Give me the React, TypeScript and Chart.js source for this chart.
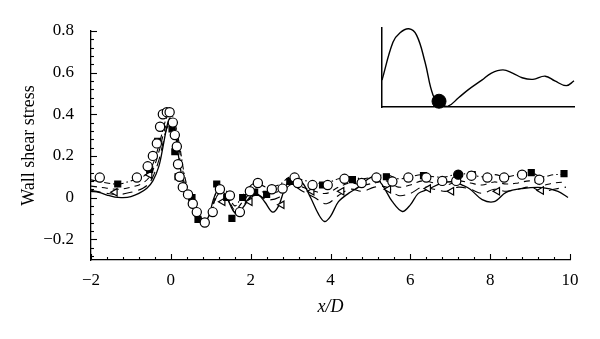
import { useEffect, useRef } from 'react';
import { Chart, registerables } from 'chart.js';
Chart.register(...registerables);

const FONT = "'Liberation Serif', 'DejaVu Serif', serif";

// Solid curve
const solidX = [-2, -1.8, -1.6, -1.4, -1.2, -1.0, -0.8, -0.6, -0.45, -0.3, -0.2, -0.1, -0.03, 0.05, 0.12, 0.2, 0.3, 0.45, 0.6, 0.72, 0.82, 0.95, 1.05, 1.15, 1.25, 1.4, 1.55, 1.65, 1.8, 2.0, 2.2, 2.35, 2.55, 2.7, 2.85, 3.05, 3.3, 3.5, 3.7, 3.85, 4.0, 4.2, 4.45, 4.7, 4.95, 5.1, 5.3, 5.55, 5.8, 6.0, 6.2, 6.45, 6.8, 7.1, 7.3, 7.5, 7.8, 8.1, 8.4, 8.8, 9.3, 9.7, 9.95];
const solidY = [0.03, 0.025, 0.012, 0.002, 0.0, 0.005, 0.02, 0.045, 0.08, 0.15, 0.24, 0.34, 0.38, 0.37, 0.3, 0.19, 0.08, -0.01, -0.07, -0.11, -0.12, -0.09, -0.02, 0.03, 0.04, 0.0, -0.06, -0.08, -0.05, 0.0, 0.01, -0.02, -0.07, -0.04, 0.04, 0.1, 0.07, 0.0, -0.08, -0.115, -0.09, -0.02, 0.02, 0.05, 0.09, 0.1, 0.06, -0.02, -0.067, -0.035, 0.02, 0.04, 0.07, 0.075, 0.06, 0.04, -0.01, -0.02, 0.025, 0.043, 0.048, 0.03, 0.0];

// Dashed curves (shared x grid)
const dashX = [-2, -1.6, -1.3, -1, -0.7, -0.5, -0.3, -0.15, -0.05, 0.05, 0.2, 0.35, 0.5, 0.7, 0.85, 1.0, 1.2, 1.4, 1.6, 1.8, 2.1, 2.4, 2.7, 3.0, 3.3, 3.6, 3.9, 4.2, 4.5, 4.8, 5.1, 5.4, 5.7, 6.0, 6.3, 6.6, 6.9, 7.2, 7.5, 7.8, 8.1, 8.4, 8.7, 9.0, 9.3, 9.6, 9.9];
const dashDotY = [0.085, 0.07, 0.065, 0.08, 0.1, 0.14, 0.25, 0.36, 0.4, 0.39, 0.27, 0.1, 0.0, -0.08, -0.11, -0.07, 0.05, 0.03, -0.04, 0.01, 0.07, 0.05, 0.06, 0.1, 0.085, 0.07, 0.07, 0.09, 0.1, 0.09, 0.1, 0.11, 0.09, 0.1, 0.11, 0.1, 0.1, 0.115, 0.11, 0.1, 0.11, 0.1, 0.11, 0.12, 0.1, 0.11, 0.11];
const dashShortY = [0.055, 0.045, 0.04, 0.05, 0.07, 0.11, 0.22, 0.33, 0.37, 0.36, 0.24, 0.08, -0.01, -0.09, -0.115, -0.075, 0.03, 0.01, -0.06, -0.02, 0.04, 0.02, 0.03, 0.07, 0.05, 0.03, 0.02, 0.05, 0.07, 0.06, 0.07, 0.08, 0.05, 0.06, 0.08, 0.07, 0.06, 0.08, 0.07, 0.06, 0.075, 0.065, 0.07, 0.08, 0.06, 0.07, 0.075];
const dashLongY = [0.035, 0.02, 0.015, 0.025, 0.045, 0.08, 0.18, 0.3, 0.35, 0.34, 0.21, 0.06, -0.02, -0.1, -0.12, -0.08, 0.02, 0.0, -0.07, -0.04, 0.02, -0.01, 0.0, 0.06, 0.03, 0.0, -0.03, 0.01, 0.04, 0.03, 0.05, 0.05, 0.01, 0.02, 0.05, 0.04, 0.03, 0.05, 0.04, 0.02, 0.04, 0.03, 0.04, 0.05, 0.03, 0.04, 0.05];

// Markers
const circleX = [-1.78, -0.85, -0.58, -0.45, -0.35, -0.27, -0.2, -0.1, -0.03, 0.05, 0.1, 0.15, 0.18, 0.22, 0.3, 0.43, 0.55, 0.65, 0.85, 1.05, 1.23, 1.48, 1.73, 1.98, 2.18, 2.53, 2.8, 3.1, 3.18, 3.55, 3.93, 4.35, 4.78, 5.15, 5.55, 5.95, 6.4, 6.8, 7.15, 7.53, 7.93, 8.35, 8.8, 9.23];
const circleY = [0.096, 0.096, 0.15, 0.2, 0.26, 0.34, 0.4, 0.41, 0.41, 0.36, 0.3, 0.245, 0.16, 0.1, 0.05, 0.015, -0.03, -0.07, -0.12, -0.07, 0.04, 0.01, -0.07, 0.03, 0.07, 0.04, 0.043, 0.096, 0.07, 0.06, 0.06, 0.09, 0.07, 0.096, 0.077, 0.096, 0.096, 0.08, 0.08, 0.105, 0.096, 0.096, 0.11, 0.086];
const squareX = [-1.33, -0.53, -0.33, 0.03, 0.1, 0.18, 0.53, 0.68, 1.15, 1.4, 1.53, 1.8, 2.1, 2.4, 2.98, 3.8, 4.55, 5.4, 6.33, 7.55, 9.03, 9.85];
const squareY = [0.065, 0.135, 0.27, 0.33, 0.22, 0.1, 0.0, -0.105, 0.065, 0.0, -0.1, 0.0, 0.025, 0.015, 0.077, 0.06, 0.086, 0.1, 0.105, 0.11, 0.12, 0.115];
const dotX = [7.2];
const dotY = [0.11];
const triX = [-1.4, -0.53, 1.3, 1.98, 2.78, 3.53, 4.28, 5.45, 6.45, 7.03, 8.18, 9.28];
const triY = [0.025, 0.11, -0.02, -0.02, -0.035, 0.03, 0.03, 0.04, 0.043, 0.03, 0.03, 0.034];

// Inset curve
const insetX = [0, 0.057, 0.094, 0.14, 0.18, 0.224, 0.266, 0.305, 0.344, 0.4, 0.45, 0.52, 0.57, 0.63, 0.68, 0.73, 0.786, 0.85, 0.9, 0.96, 1.0];
const insetY = [0.34, 0.82, 0.94, 0.99, 0.91, 0.57, 0.15, 0.04, 0.01, 0.12, 0.22, 0.34, 0.43, 0.47, 0.43, 0.37, 0.35, 0.39, 0.33, 0.27, 0.33];
const insetDotX = [0.297];
const insetDotY = [0.073];

const zip = (xs: number[], ys: number[]) =>
  xs.slice(0, Math.min(xs.length, ys.length)).map((x, i) => ({ x, y: ys[i] }));

const near = (v: number, step: number) => Math.abs(v / step - Math.round(v / step)) < 1e-6;
const fmt = (v: number, d: number) => {
  if (Math.abs(v) < 1e-9) return '0';
  const s = Math.abs(v).toFixed(d);
  return v < 0 ? '\u2212' + s : s;
};

const innerTicks = {
  id: 'innerTicks',
  afterDraw(chart: any) {
    const { ctx, chartArea } = chart;
    const xs = chart.scales.x;
    const ys = chart.scales.y;
    ctx.save();
    ctx.strokeStyle = '#000';
    ctx.lineWidth = 1.1;
    xs.ticks.forEach((t: any) => {
      const px = Math.round(xs.getPixelForValue(t.value)) + 0.5;
      const len = near(t.value, 2) ? 6 : 3;
      ctx.beginPath();
      ctx.moveTo(px, chartArea.bottom);
      ctx.lineTo(px, chartArea.bottom - len);
      ctx.stroke();
    });
    ys.ticks.forEach((t: any) => {
      const py = Math.round(ys.getPixelForValue(t.value)) + 0.5;
      const len = near(t.value, 0.2) ? 6 : 3;
      ctx.beginPath();
      ctx.moveTo(chartArea.left, py);
      ctx.lineTo(chartArea.left + len, py);
      ctx.stroke();
    });
    ctx.restore();
  },
};

export default function App() {
  const mainRef = useRef<HTMLCanvasElement>(null);
  const insetRef = useRef<HTMLCanvasElement>(null);

  useEffect(() => {
    const lineDs = (label: string, xs: number[], ys: number[], dash: number[], width: number, order: number) => ({
      label,
      data: zip(xs, ys),
      showLine: true,
      borderColor: '#000',
      borderWidth: width,
      borderDash: dash,
      pointRadius: 0,
      tension: 0.35,
      fill: false,
      order,
    });
    const markerDs = (label: string, xs: number[], ys: number[], style: string, radius: number, bg: string, rot: number, order: number) => ({
      label,
      data: zip(xs, ys),
      showLine: false,
      pointStyle: style,
      pointRadius: radius,
      pointRotation: rot,
      pointBackgroundColor: bg,
      pointBorderColor: '#000',
      pointBorderWidth: 1.2,
      order,
    });

    const main = new Chart(mainRef.current!, {
      type: 'scatter',
      data: {
        datasets: [
          markerDs('circles', circleX, circleY, 'circle', 4.6, '#fff', 0, 1),
          markerDs('squares', squareX, squareY, 'rect', 4.2, '#000', 0, 2),
          markerDs('dots', dotX, dotY, 'circle', 4.6, '#000', 0, 0),
          markerDs('triangles', triX, triY, 'triangle', 4.3, '#fff', -90, 3),
          lineDs('solid', solidX, solidY, [], 1.3, 10),
          lineDs('dash-dot', dashX, dashDotY, [6, 3, 1.5, 3], 1.1, 11),
          lineDs('dashed', dashX, dashShortY, [6, 5], 1.1, 12),
          lineDs('long dashed', dashX, dashLongY, [10, 6], 1.1, 13),
        ] as any,
      },
      options: {
        animation: false,
        responsive: false,
        events: [],
        layout: { padding: { left: 0, right: 30, top: 31, bottom: 0 } },
        plugins: { legend: { display: false }, tooltip: { enabled: false } },
        scales: {
          x: {
            type: 'linear',
            min: -2,
            max: 10,
            afterFit: (s: any) => { s.height = 79; },
            afterBuildTicks: (s: any) => {
              const t = [];
              for (let i = -5; i <= 25; i++) t.push({ value: Math.round(i * 0.4 * 100) / 100 });
              s.ticks = t;
            },
            grid: { display: false },
            border: { display: true, color: '#000', width: 1.3 },
            ticks: {
              autoSkip: false,
              maxRotation: 0,
              padding: 2,
              color: '#000',
              font: { family: FONT, size: 17 },
              callback: (v: any) => (near(Number(v), 2) ? fmt(Number(v), 0) : ''),
            },
            title: {
              display: true,
              text: 'x/D',
              color: '#000',
              font: { family: FONT, size: 18, style: 'italic' },
              padding: { top: 0, bottom: 21 },
            },
          },
          y: {
            type: 'linear',
            min: -0.3,
            max: 0.8,
            afterFit: (s: any) => { s.width = 91; },
            afterBuildTicks: (s: any) => {
              const t = [];
              for (let i = -7; i <= 20; i++) t.push({ value: Math.round(i * 0.04 * 100) / 100 });
              s.ticks = t;
            },
            grid: { display: false },
            border: { display: true, color: '#000', width: 1.3 },
            ticks: {
              autoSkip: false,
              padding: 9,
              color: '#000',
              font: { family: FONT, size: 17 },
              callback: (v: any) => (near(Number(v), 0.2) ? fmt(Number(v), 1) : ''),
            },
            title: {
              display: true,
              text: 'Wall shear stress',
              color: '#000',
              font: { family: FONT, size: 18 },
              padding: { top: 18, bottom: 0 },
            },
          },
        },
      } as any,
      plugins: [innerTicks],
    });

    const inset = new Chart(insetRef.current!, {
      type: 'scatter',
      data: {
        datasets: [
          {
            label: 'dot',
            data: zip(insetDotX, insetDotY),
            showLine: false,
            pointRadius: 7,
            pointBackgroundColor: '#000',
            pointBorderColor: '#000',
            clip: false,
            order: 0,
          },
          {
            label: 'curve',
            data: zip(insetX, insetY),
            showLine: true,
            borderColor: '#000',
            borderWidth: 1.4,
            pointRadius: 0,
            tension: 0.4,
            clip: false,
            order: 1,
          },
        ] as any,
      },
      options: {
        animation: false,
        responsive: false,
        events: [],
        layout: { padding: { left: 12, right: 11, top: 13, bottom: 5 } },
        plugins: { legend: { display: false }, tooltip: { enabled: false } },
        scales: {
          x: {
            type: 'linear', min: 0, max: 1,
            afterFit: (s: any) => { s.height = 0; },
            grid: { display: false, drawTicks: false },
            border: { display: true, color: '#000', width: 1.5 },
            ticks: { display: false },
          },
          y: {
            type: 'linear', min: 0, max: 1,
            afterFit: (s: any) => { s.width = 0; },
            grid: { display: false, drawTicks: false },
            border: { display: true, color: '#000', width: 1.5 },
            ticks: { display: false },
          },
        },
      } as any,
    });

    return () => {
      main.destroy();
      inset.destroy();
    };
  }, []);

  return (
    <div style={{ position: 'fixed', left: 0, top: 0, width: 600, height: 339, background: '#fff' }}>
      <canvas ref={mainRef} width={600} height={339} style={{ position: 'absolute', left: 0, top: 0 }} />
      <canvas ref={insetRef} width={215} height={100} style={{ position: 'absolute', left: 370, top: 15 }} />
    </div>
  );
}
